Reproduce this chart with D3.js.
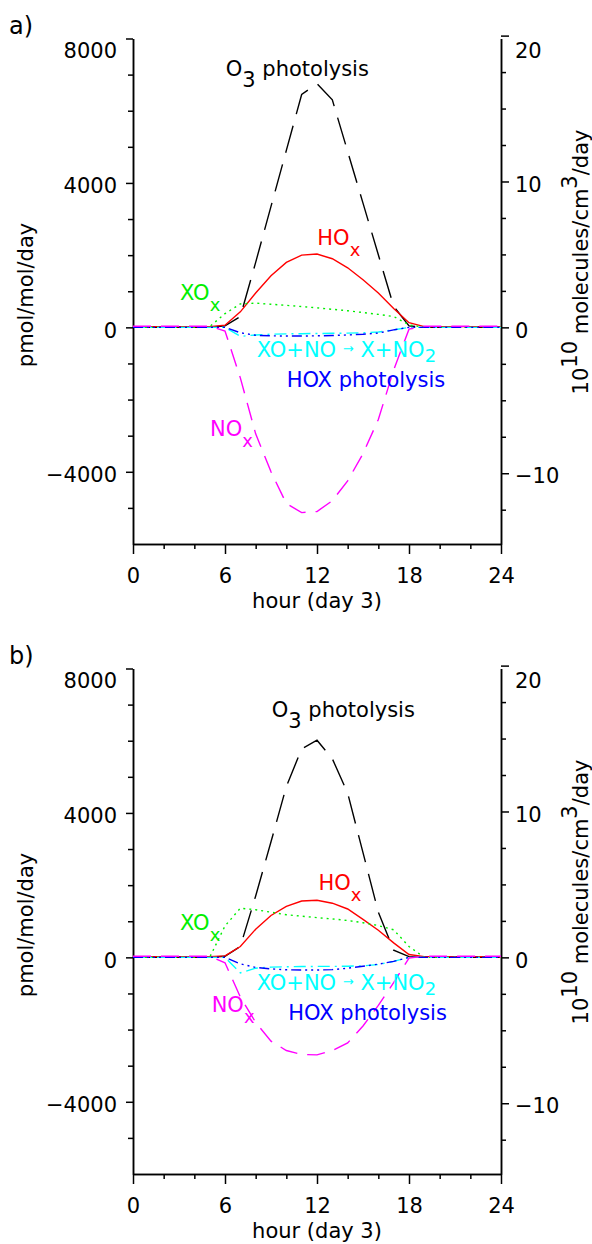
<!DOCTYPE html>
<html>
<head>
<meta charset="utf-8">
<script src="https://cdn.jsdelivr.net/npm/d3@7"></script>
<style>
  body { margin: 0; background: #fff; }
  text { font-family: "DejaVu Sans", sans-serif; font-size: 21px; white-space: pre; }
</style>
</head>
<body>
<svg id="chart" width="592" height="1244"></svg>
<script>
// hourly model output, day 3
var hours = [0,1,2,3,4,5,6,7,8,9,10,11,12,13,14,15,16,17,18,19,20,21,22,23,24]

// panel a)  pmol/mol/day
var o3PhotA  = [0,0,0,0,0,0,40,300,1800,3350,4900,6450,6750,6300,4870,3440,2010,580,40,0,0,0,0,0,0]
var hoxA     = [20,20,20,20,20,20,60,430,950,1430,1800,2000,2030,1900,1650,1320,950,520,130,20,20,20,20,20,20]
var xoxA     = [0,0,0,0,0,20,380,650,670,640,610,575,540,500,460,410,360,300,70,0,0,0,0,0,0]
var xoNoA    = [0,0,0,0,0,0,0,-250,-210,-190,-180,-175,-170,-165,-160,-150,-130,-70,0,0,0,0,0,0,0]
var hoxPhotA = [0,0,0,0,0,0,0,-150,-220,-235,-240,-240,-235,-225,-210,-190,-160,-70,0,0,0,0,0,0,0]
var noxA     = [30,30,30,30,30,30,-100,-1400,-2950,-4000,-4880,-5130,-5100,-4800,-4250,-3500,-2550,-1180,-50,30,30,30,30,30,30]

// panel b)
var o3PhotB  = [0,0,0,0,0,0,30,300,1700,3200,4730,5775,6014,5500,4550,2900,1250,200,20,0,0,0,0,0,0]
var hoxB     = [20,20,20,20,20,20,40,300,780,1160,1410,1560,1580,1500,1340,1050,750,400,80,20,20,20,20,20,20]
var xoxB     = [0,0,0,0,0,0,870,1360,1320,1250,1180,1140,1100,1065,1020,960,880,763,300,0,0,0,0,0,0]
var xoNoB    = [0,0,0,0,0,0,0,-430,-300,-270,-260,-255,-250,-250,-245,-235,-200,-110,0,0,0,0,0,0,0]
var hoxPhotB = [0,0,0,0,0,0,0,-180,-280,-320,-345,-350,-350,-340,-300,-245,-190,-110,0,0,0,0,0,0,0]
var noxB     = [30,30,30,30,30,30,-150,-1100,-1800,-2320,-2580,-2690,-2700,-2580,-2370,-1900,-1330,-700,-20,30,30,30,30,30,30]

// axis ticks
var hourMajor = [0, 6, 12, 18, 24]
var hourMinor = [2, 4, 8, 10, 14, 16, 20, 22]
var leftMajor = [-4000, 0, 4000, 8000]
var leftMinor = [-5000, -3000, -2000, -1000, 1000, 2000, 3000, 5000, 6000, 7000]
var rightMajor = [-10, 0, 10, 20]
var rightMinor = [-12.5, -7.5, -5, -2.5, 2.5, 5, 7.5, 12.5, 15, 17.5]

var pmolPerUnit = 404   // 1e10 molecules/cm3/day in pmol/mol/day

var svg = d3.select('#chart')

var x = d3.scaleLinear().domain([0, 24]).range([133, 501])
var y = d3.scaleLinear().domain([-6000, 8000]).range([544, 38.5])
var yr = d3.scaleLinear().domain([-6000 / pmolPerUnit, 8000 / pmolPerUnit]).range([544, 38.5])

function minusFmt(d) { return d < 0 ? '\u2212' + Math.abs(d) : String(d) }

// styles for each process
var styles = {
	o3:      { color: '#000000', dash: '28,12' },
	hox:     { color: '#ff0000', dash: null },
	xox:     { color: '#00ee00', dash: '2,4' },
	xoNo:    { color: '#00ffff', dash: '12,5,2,5' },
	hoxPhot: { color: '#0000ff', dash: '10,4,2,4,2,4,2,4' },
	nox:     { color: '#ff00ff', dash: '18,10' }
}

// parts: t = text, dy = baseline shift for that piece, size = font size
function addLabel(g, parts, hx, v, color) {
	var t = g.append('text')
		.attr('x', x(hx))
		.attr('y', y(v))
		.attr('fill', color)
	parts.forEach(function(p) {
		var sp = t.append('tspan').text(p.t)
		if (p.size) sp.style('font-size', p.size)
		if (p.dy) sp.attr('dy', p.dy)
	})
}

function styleAxis(a) {
	a.selectAll('path, line').attr('stroke', '#000').attr('stroke-width', 1.5)
	a.selectAll('text').attr('fill', '#000').style('font-family', '"DejaVu Sans", sans-serif').style('font-size', '21px')
}

function drawPanel(top, tag, series, labels) {
	var g = svg.append('g').attr('transform', 'translate(0,' + top + ')')

	// left axis
	var la = g.append('g').attr('transform', 'translate(133,0)')
		.call(d3.axisLeft(y).tickValues(leftMajor).tickSize(7).tickSizeOuter(0).tickPadding(9).tickFormat(minusFmt))
	la.selectAll('text').attr('dy', '0.46em').attr('y', function(d) { return d === 8000 ? 9 : 0 })
	styleAxis(la)
	var lm = g.append('g').attr('transform', 'translate(133,0)')
		.call(d3.axisLeft(y).tickValues(leftMinor).tickSize(5).tickSizeOuter(0).tickFormat(''))
	styleAxis(lm)

	// right axis
	var ra = g.append('g').attr('transform', 'translate(501,0)')
		.call(d3.axisRight(yr).tickValues(rightMajor).tickSize(8).tickSizeOuter(0).tickPadding(6).tickFormat(minusFmt))
	ra.selectAll('text').attr('dy', '0.46em').attr('y', function(d) { return d === 20 ? 12 : 0 })
	styleAxis(ra)
	var rm = g.append('g').attr('transform', 'translate(501,0)')
		.call(d3.axisRight(yr).tickValues(rightMinor).tickSize(5).tickSizeOuter(0).tickFormat(''))
	styleAxis(rm)

	// bottom axis
	var ba = g.append('g').attr('transform', 'translate(0,544)')
		.call(d3.axisBottom(x).tickValues(hourMajor).tickSize(10).tickSizeOuter(0).tickPadding(14))
	styleAxis(ba)
	var bm = g.append('g').attr('transform', 'translate(0,544)')
		.call(d3.axisBottom(x).tickValues(hourMinor).tickSize(5).tickSizeOuter(0).tickFormat(''))
	styleAxis(bm)

	// curves
	var line = d3.line()
		.x(function(d, i) { return x(hours[i]) })
		.y(function(d) { return y(d) })

	series.forEach(function(s) {
		var st = styles[s.key]
		g.append('path')
			.datum(s.values)
			.attr('d', line)
			.attr('fill', 'none')
			.attr('stroke', st.color)
			.attr('stroke-width', 1.4)
			.attr('stroke-dasharray', st.dash)
	})

	// curve labels
	labels.forEach(function(l) {
		addLabel(g, l.parts, l.h, l.v, styles[l.key].color)
	})

	// axis titles
	g.append('text')
		.attr('transform', 'translate(33,295) rotate(-90)')
		.attr('text-anchor', 'middle')
		.text('pmol/mol/day')

	var rt = g.append('text')
		.attr('transform', 'translate(588,262) rotate(-90)')
		.attr('text-anchor', 'middle')
	rt.append('tspan').text('10')
	rt.append('tspan').attr('dy', -11).text('10')
	rt.append('tspan').attr('dy', 11).text(' molecules/cm')
	rt.append('tspan').attr('dy', -11).text('3')
	rt.append('tspan').attr('dy', 11).text('/day')

	g.append('text')
		.attr('x', 317).attr('y', 608)
		.attr('text-anchor', 'middle')
		.text('hour (day 3)')

	g.append('text')
		.attr('x', 9).attr('y', 34)
		.style('font-size', '24px')
		.text(tag)
}

function labelSet(pos) {
	return [
		{ key: 'o3', h: pos[0][0], v: pos[0][1], parts: [{ t: 'O' }, { t: '3', dy: 11 }, { t: ' photolysis', dy: -11 }] },
		{ key: 'hox', h: pos[1][0], v: pos[1][1], parts: [{ t: 'HO' }, { t: 'x', dy: 11, size: '18px' }] },
		{ key: 'xox', h: pos[2][0], v: pos[2][1], parts: [{ t: 'XO' }, { t: 'x', dy: 11, size: '18px' }] },
		{ key: 'xoNo', h: pos[3][0], v: pos[3][1], parts: [{ t: 'XO+NO ' }, { t: '\u2192', dy: -4, size: '13px' }, { t: ' X+NO', dy: 4 }, { t: '2', dy: 5, size: '18px' }] },
		{ key: 'hoxPhot', h: pos[4][0], v: pos[4][1], parts: [{ t: 'HOX photolysis' }] },
		{ key: 'nox', h: pos[5][0], v: pos[5][1], parts: [{ t: 'NO' }, { t: 'x', dy: 11, size: '18px' }] }
	]
}

drawPanel(0, 'a)', [
	{ key: 'o3', values: o3PhotA },
	{ key: 'hox', values: hoxA },
	{ key: 'xox', values: xoxA },
	{ key: 'xoNo', values: xoNoA },
	{ key: 'hoxPhot', values: hoxPhotA },
	{ key: 'nox', values: noxA }
], labelSet([[6.05, 6958], [12.02, 2279], [3.07, 756], [8.07, -831], [10.02, -1653], [5.02, -3010]]))

drawPanel(630, 'b)', [
	{ key: 'o3', values: o3PhotB },
	{ key: 'hox', values: hoxB },
	{ key: 'xox', values: xoxB },
	{ key: 'xoNo', values: xoNoB },
	{ key: 'hoxPhot', values: hoxPhotB },
	{ key: 'nox', values: noxB }
], labelSet([[9.05, 6662], [12.09, 1863], [3.07, 756], [8.07, -906], [10.13, -1736], [5.13, -1506]]))
</script>
</body>
</html>
